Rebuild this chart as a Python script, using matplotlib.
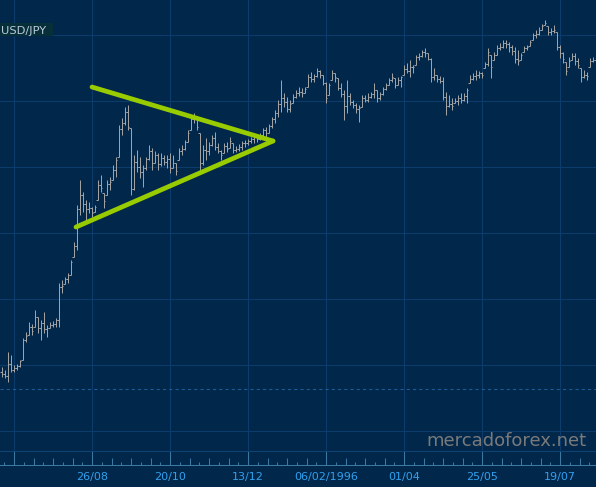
import numpy as np
import matplotlib
matplotlib.use("Agg")
import matplotlib.pyplot as plt
from matplotlib.patches import Rectangle

# ---------------- data (USD/JPY daily OHLC) ----------------
high = [
    84.85, 84.62, 85.98, 85.76, 85.00, 85.07, 85.38, 87.04, 87.50, 88.26,
    88.10, 89.17, 88.64, 88.41, 89.01, 88.03, 88.26, 88.33, 88.56, 91.21,
    91.44, 91.67, 91.97, 92.95, 94.32, 97.12, 99.02, 98.11, 97.50, 97.35,
    96.97, 97.12, 99.02, 99.39, 98.03, 99.02, 99.24, 100.15, 100.76, 103.18,
    103.71, 104.55, 104.70, 102.95, 100.91, 101.29, 100.76, 100.15, 100.76, 101.67,
    101.44, 101.21, 101.06, 101.06, 100.91, 100.91, 101.06, 100.91, 100.30, 101.44,
    101.67, 102.05, 102.80, 103.94, 104.09, 103.71, 102.58, 101.67, 102.20, 101.89,
    102.42, 102.65, 101.82, 101.29, 101.82, 101.89, 102.27, 101.82, 101.59, 101.74,
    101.97, 102.05, 102.12, 102.27, 102.42, 102.27, 102.58, 102.95, 103.03, 103.26,
    103.79, 104.32, 105.08, 106.59, 105.61, 105.30, 105.08, 105.53, 105.83, 106.06,
    105.98, 106.06, 107.05, 107.20, 107.05, 107.50, 107.35, 106.97, 106.44, 106.36,
    107.35, 107.12, 106.74, 106.36, 105.83, 106.59, 105.61, 105.08, 104.85, 104.70,
    105.45, 105.45, 105.61, 105.68, 106.36, 105.83, 105.68, 106.06, 106.36, 106.74,
    107.12, 106.74, 106.82, 106.89, 107.73, 107.88, 108.11, 107.73, 108.48, 108.64,
    108.86, 109.02, 108.64, 108.26, 107.50, 106.97, 106.89, 106.82, 105.68, 105.45,
    105.23, 105.23, 105.45, 105.61, 105.61, 105.98, 106.97, 107.12, 107.35, 107.27,
    107.20, 107.95, 109.02, 108.48, 108.71, 109.24, 109.39, 109.62, 109.62, 109.47,
    109.24, 109.09, 108.86, 108.64, 109.17, 109.24, 109.62, 110.15, 110.38, 110.61,
    110.83, 111.14, 110.68, 110.53, 110.76, 110.23, 109.24, 108.71, 107.95, 108.33,
    108.64, 108.64, 108.26, 107.50, 107.35, 107.20, 108.26, 108.33, 108.11,
]

low = [
    84.09, 84.01, 83.71, 84.47, 84.47, 84.62, 84.85, 85.38, 86.74, 87.27,
    87.27, 87.88, 87.42, 86.89, 87.42, 87.12, 87.80, 87.88, 87.88, 87.88,
    90.45, 91.14, 91.21, 91.82, 93.18, 93.71, 96.36, 96.59, 95.98, 96.52,
    96.21, 96.59, 97.50, 98.11, 96.89, 97.88, 98.26, 99.02, 99.24, 100.76,
    102.42, 103.18, 102.80, 97.88, 98.26, 99.62, 99.17, 98.48, 99.77, 100.53,
    99.77, 100.30, 99.77, 100.08, 100.15, 99.92, 99.55, 99.92, 99.39, 100.53,
    100.91, 101.29, 101.89, 102.80, 103.33, 102.80, 99.77, 100.15, 100.53, 100.91,
    101.59, 101.29, 101.06, 100.53, 101.06, 101.14, 101.44, 101.06, 101.14, 101.21,
    101.29, 101.52, 101.67, 101.82, 101.82, 101.89, 102.05, 102.35, 102.20, 102.58,
    102.95, 103.33, 103.79, 104.17, 104.55, 104.17, 104.17, 104.85, 105.23, 105.38,
    105.30, 105.61, 106.06, 106.44, 106.44, 106.82, 106.74, 106.21, 104.85, 105.45,
    106.59, 106.44, 105.83, 105.30, 103.56, 104.09, 104.70, 104.47, 104.09, 103.41,
    104.55, 104.92, 104.92, 105.23, 105.23, 104.92, 105.08, 105.45, 105.83, 106.21,
    106.44, 105.98, 106.21, 106.06, 106.97, 107.12, 106.82, 107.12, 107.73, 108.11,
    108.33, 108.33, 108.11, 106.44, 106.59, 106.44, 106.36, 105.08, 103.94, 104.55,
    104.32, 104.85, 104.70, 104.85, 105.00, 104.85, 106.36, 106.59, 106.59, 106.74,
    106.74, 107.50, 107.65, 106.74, 108.11, 108.48, 108.86, 109.02, 109.02, 108.71,
    108.48, 107.88, 107.73, 108.11, 108.71, 108.86, 109.17, 109.62, 109.77, 110.00,
    110.38, 110.76, 110.00, 110.00, 110.15, 108.86, 108.26, 107.88, 106.97, 107.58,
    108.11, 107.73, 107.50, 106.44, 106.74, 106.59, 107.58, 107.95, 107.58,
]

close = [
    84.3, 84.2, 85.1, 84.6, 84.8, 84.9, 85.3, 86.9, 87.2, 87.9,
    87.6, 88.6, 87.8, 88.2, 87.7, 87.8, 88.0, 88.1, 88.4, 90.9,
    91.0, 91.5, 91.8, 92.8, 94.0, 96.8, 97.9, 97.2, 96.8, 96.9,
    96.5, 97.0, 98.6, 98.4, 97.4, 98.7, 98.9, 99.8, 100.5, 102.9,
    103.3, 104.2, 103.0, 98.3, 100.4, 100.0, 99.6, 99.9, 100.6, 101.2,
    100.3, 100.9, 100.2, 100.7, 100.4, 100.6, 99.9, 100.3, 99.7, 101.2,
    101.4, 101.9, 102.6, 103.6, 103.8, 103.0, 100.3, 101.3, 101.2, 101.7,
    102.2, 101.5, 101.2, 100.9, 101.6, 101.4, 102.0, 101.3, 101.4, 101.5,
    101.8, 101.8, 102.0, 102.1, 102.3, 102.1, 102.4, 102.8, 102.6, 103.1,
    103.6, 104.1, 104.8, 105.2, 104.9, 104.4, 104.8, 105.3, 105.6, 105.7,
    105.6, 105.9, 106.8, 106.7, 106.9, 107.3, 107.0, 106.4, 105.2, 106.2,
    107.1, 106.8, 106.0, 105.5, 104.6, 105.4, 104.9, 104.7, 104.4, 104.5,
    105.2, 105.1, 105.3, 105.5, 105.8, 105.2, 105.5, 105.9, 106.2, 106.6,
    106.8, 106.2, 106.6, 106.8, 107.4, 107.3, 107.6, 107.6, 108.3, 108.4,
    108.7, 108.6, 108.2, 106.8, 107.0, 106.7, 106.5, 105.3, 104.6, 104.8,
    104.6, 105.0, 105.2, 105.1, 105.4, 105.8, 106.7, 106.9, 107.0, 107.1,
    107.0, 107.8, 108.7, 107.6, 108.5, 109.0, 109.1, 109.4, 109.3, 109.1,
    108.8, 108.2, 108.0, 108.5, 109.0, 109.1, 109.5, 110.0, 110.1, 110.4,
    110.7, 110.9, 110.2, 110.3, 110.4, 109.1, 108.6, 108.2, 107.3, 108.0,
    108.4, 108.0, 107.7, 106.8, 107.0, 106.9, 108.0, 108.1, 107.9,
]

first_open = 84.5

# date labels of the major ticks (first one falls off the left edge: no label)
date_labels = ["", "26/08", "20/10", "13/12", "06/02/1996", "01/04", "25/05", "19/07"]

# symmetrical triangle drawn on the chart (bar index, price)
tri_upper_x = [30.17, 90.5]
tri_upper_y = [106.06, 101.97]
tri_lower_x = [24.83, 90.5]
tri_lower_y = [95.45, 101.97]

support_level = 83.2          # dashed horizontal line
grid_levels = [80, 85, 90, 95, 100, 105, 110]

# ---------------- style ----------------
BG = "#01284b"
GRID = "#0b3c6b"
STRIP_TOP = "#0d4473"
BASE = "#3c78a2"
DASH = "#1d5c99"
LABEL = "#32a0ee"
BAR = "#a2a2a2"
LIME = "#99cc00"

W, H = 596, 487
PX_PER_BAR = 3.0
Y_TOP = 110 + 35 / 13.2
Y_BOT = Y_TOP - 451 / 13.2
LW1 = 0.72   # one pixel at 100 dpi

fig = plt.figure(figsize=(W / 100, H / 100), dpi=100, facecolor=BG)

ax = fig.add_axes([0, (H - 451) / H, 1, 451 / H])
ax.set_facecolor(BG)
xlim = (-0.5, -0.5 + W / PX_PER_BAR)
ax.set_xlim(*xlim)
ax.set_ylim(Y_BOT, Y_TOP)
for s in ax.spines.values():
    s.set_visible(False)

majors = 4.17 + 26 * np.arange(len(date_labels))
ax.set_xticks(majors)
ax.set_yticks(grid_levels)
ax.tick_params(length=0, labelleft=False, labelbottom=False)
ax.grid(True, color=GRID, lw=0.75)
ax.set_axisbelow(True)

ax.axhline(support_level, color=DASH, lw=0.75, dashes=(3, 3), zorder=1)

hi = np.array(high)
lo = np.array(low)
cl = np.array(close)
op = np.clip(np.r_[first_open, cl[:-1]], lo, hi)
x = np.arange(len(hi))
tick = 0.34
ax.vlines(x, lo, hi, color=BAR, lw=LW1, zorder=2)
ax.hlines(op, x - tick, x, color=BAR, lw=LW1, zorder=2)
ax.hlines(cl, x, x + tick, color=BAR, lw=LW1, zorder=2)

ax.plot(tri_upper_x, tri_upper_y, color=LIME, lw=3.4, solid_capstyle="round", zorder=3)
ax.plot(tri_lower_x, tri_lower_y, color=LIME, lw=3.4, solid_capstyle="round", zorder=3)

# ---------------- time-axis strip ----------------
sx = fig.add_axes([0, (H - 465) / H, 1, 14 / H])
sx.set_facecolor(BG)
sx.set_xlim(*xlim)
sx.set_ylim(0, 1)
sx.spines["left"].set_visible(False)
sx.spines["right"].set_visible(False)
sx.spines["top"].set_color(STRIP_TOP)
sx.spines["top"].set_linewidth(0.75)
sx.spines["bottom"].set_color(BASE)
sx.spines["bottom"].set_linewidth(0.75)
sx.set_yticks([])
sx.vlines(majors, 0, 1, color=BASE, lw=0.75)
step = 26 / 8
for m in np.r_[majors[0] - 26, majors]:
    for k in range(1, 8):
        pos = m + k * step
        if xlim[0] < pos < xlim[1]:
            h = 0.5 if k % 2 == 0 else 0.22
            sx.vlines(pos, 0, h, color=BASE, lw=0.75)
sx.set_xticks(majors)
sx.set_xticklabels(date_labels)
sx.tick_params(axis="x", length=0, pad=5.3, labelsize=8, labelcolor=LABEL)

# ---------------- overlays ----------------
fig.patches.append(Rectangle((0, (H - 36) / H), 53 / W, 13 / H, transform=fig.transFigure,
                             facecolor="#062f3a", edgecolor="none", zorder=5))
fig.text(1 / W, (H - 33.7) / H, "USD/JPY", fontsize=8.2, color="#bccbdc",
         ha="left", va="baseline", zorder=6)
fig.text(587 / W, (H - 446) / H, "mercadoforex.net", fontsize=13, color="#7a7a7a",
         ha="right", va="baseline", zorder=6)

fig.savefig("out.png", dpi=100, facecolor=BG)
